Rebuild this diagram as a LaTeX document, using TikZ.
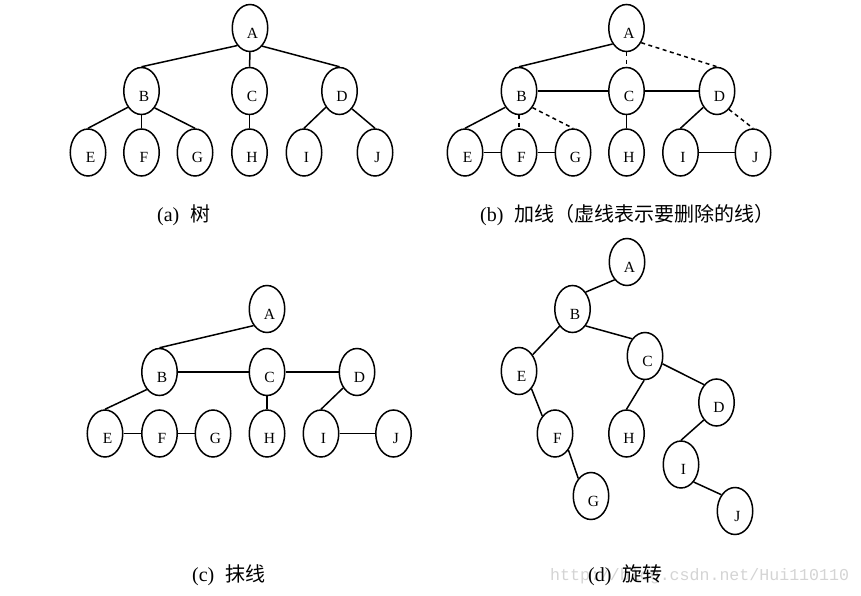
\documentclass[tikz,border=0pt]{standalone}
\usepackage{fontspec}
\setmainfont{Liberation Serif}
\newfontfamily\cjk{Noto Sans CJK SC}
\newfontfamily\wmfont{Liberation Mono}
\usetikzlibrary{shapes.geometric}
\begin{document}
\begin{tikzpicture}[x=1pt,y=-1pt,
  tn/.style={ellipse, draw, line width=1.5pt, minimum width=35.5pt, minimum height=47pt, inner sep=0pt},
  lbl/.style={xshift=2.5pt, yshift=-5pt, inner sep=0pt, font=\fontsize{15.5}{15.5}\selectfont},
  ed/.style={line width=1.5pt},
  dsh/.style={line width=1.5pt, dash pattern=on 4pt off 3.5pt},
  captxt/.style={anchor=west, inner sep=0pt, font=\fontsize{20}{20}\selectfont},
  wm/.style={anchor=west, inner sep=0pt, text=black!17, font=\wmfont\fontsize{16.6}{16.6}\selectfont}]
\useasboundingbox (0,0) rectangle (861,596);
% ---------- (a) ----------
\node[tn, label={[lbl]center:A}] (aA) at (250,28) {};
\node[tn, label={[lbl]center:B}] (aB) at (141.5,91) {};
\node[tn, label={[lbl]center:C}] (aC) at (249.5,91) {};
\node[tn, label={[lbl]center:D}] (aD) at (339.5,91) {};
\node[tn, label={[lbl]center:E}] (aE) at (88,152.5) {};
\node[tn, label={[lbl]center:F}] (aF) at (141.5,152.5) {};
\node[tn, label={[lbl]center:G}] (aG) at (195,152.5) {};
\node[tn, label={[lbl]center:H}] (aH) at (249.5,152.5) {};
\node[tn, label={[lbl]center:I}] (aI) at (304,152.5) {};
\node[tn, label={[lbl]center:J}] (aJ) at (375,152.5) {};
\draw[ed] (aA.234) -- (aB.north);
\draw[ed] (aA.south) -- (aC.north);
\draw[ed] (aA.304) -- (aD.north);
\draw[ed] (aB.230) -- (aE.north);
\draw[ed] (aB.south) -- (aF.north);
\draw[ed] (aB.308) -- (aG.north);
\draw[ed] (aC.south) -- (aH.north);
\draw[ed] (aD.230) -- (aI.north);
\draw[ed] (aD.305) -- (aJ.north);
\node[captxt] (capa) at (157,215) {(a)\hspace{0.55em}{\cjk 树}};
% ---------- (b) ----------
\node[tn, label={[lbl]center:A}] (bA) at (626.5,28) {};
\node[tn, label={[lbl]center:B}] (bB) at (519,91) {};
\node[tn, label={[lbl]center:C}] (bC) at (626.5,91) {};
\node[tn, label={[lbl]center:D}] (bD) at (717,91) {};
\node[tn, label={[lbl]center:E}] (bE) at (465,152.5) {};
\node[tn, label={[lbl]center:F}] (bF) at (519,152.5) {};
\node[tn, label={[lbl]center:G}] (bG) at (573,152.5) {};
\node[tn, label={[lbl]center:H}] (bH) at (626.5,152.5) {};
\node[tn, label={[lbl]center:I}] (bI) at (680.5,152.5) {};
\node[tn, label={[lbl]center:J}] (bJ) at (753,152.5) {};
\draw[ed] (bA.229) -- (bB.north);
\draw[dsh] (bA.south) -- (bC.north);
\draw[dsh] (bA.315) -- (bD.north);
\draw[ed] (bB.east) -- (bC.west);
\draw[ed] (bC.east) -- (bD.west);
\draw[ed] (bB.230) -- (bE.north);
\draw[dsh] (bB.south) -- (bF.north);
\draw[dsh] (bB.309) -- (bG.north);
\draw[ed] (bE.east) -- (bF.west);
\draw[ed] (bF.east) -- (bG.west);
\draw[ed] (bC.south) -- (bH.north);
\draw[ed] (bD.230) -- (bI.north);
\draw[dsh] (bD.303) -- (bJ.north);
\draw[ed] (bI.east) -- (bJ.west);
\node[captxt] (capb) at (480,215) {(b)\hspace{0.55em}{\cjk 加线（虚线表示要删除的线）}};
% ---------- (c) ----------
\node[tn, label={[lbl]center:A}] (cA) at (267,309) {};
\node[tn, label={[lbl]center:B}] (cB) at (159.5,372) {};
\node[tn, label={[lbl]center:C}] (cC) at (267,372) {};
\node[tn, label={[lbl]center:D}] (cD) at (357,372) {};
\node[tn, label={[lbl]center:E}] (cE) at (105,433.5) {};
\node[tn, label={[lbl]center:F}] (cF) at (159.5,433.5) {};
\node[tn, label={[lbl]center:G}] (cG) at (213,433.5) {};
\node[tn, label={[lbl]center:H}] (cH) at (267,433.5) {};
\node[tn, label={[lbl]center:I}] (cI) at (321,433.5) {};
\node[tn, label={[lbl]center:J}] (cJ) at (393.5,433.5) {};
\draw[ed] (cA.231) -- (cB.north);
\draw[ed] (cB.east) -- (cC.west);
\draw[ed] (cC.east) -- (cD.west);
\draw[ed] (cB.234) -- (cE.north);
\draw[ed] (cE.east) -- (cF.west);
\draw[ed] (cF.east) -- (cG.west);
\draw[ed] (cC.south) -- (cH.north);
\draw[ed] (cD.229) -- (cI.north);
\draw[ed] (cI.east) -- (cJ.west);
\node[captxt] (capc) at (192,575) {(c)\hspace{0.55em}{\cjk 抹线}};
% ---------- (d) ----------
\node[wm] (wmark) at (550,576) {http://blog.csdn.net/Hui110110};
\node[tn, label={[lbl]center:A}] (dA) at (627,262) {};
\node[tn, label={[lbl]center:B}] (dB) at (572.5,309) {};
\node[tn, label={[lbl]center:C}] (dC) at (645,356) {};
\node[tn, label={[lbl]center:E}] (dE) at (519,371) {};
\node[tn, label={[lbl]center:D}] (dD) at (716.5,402.5) {};
\node[tn, label={[lbl]center:F}] (dF) at (555,433.5) {};
\node[tn, label={[lbl]center:H}] (dH) at (626.5,433.5) {};
\node[tn, label={[lbl]center:I}] (dI) at (681,464.5) {};
\node[tn, label={[lbl]center:G}] (dG) at (591,496) {};
\node[tn, label={[lbl]center:J}] (dJ) at (735,511) {};
\draw[ed] (dA.235) -- (dB.52);
\draw[ed] (dB.233) -- (dE.50);
\draw[ed] (dB.308) -- (dC.127);
\draw[ed] (dE.305) -- (dF.126);
\draw[ed] (dF.309) -- (dG.126);
\draw[ed] (dC.268) -- (dH.north);
\draw[ed] (dC.336) -- (dD.125);
\draw[ed] (dD.234) -- (dI.north);
\draw[ed] (dI.306) -- (dJ.130);
\node[captxt] (capd) at (588,575) {(d)\hspace{0.55em}{\cjk 旋转}};
\end{tikzpicture}
\end{document}
